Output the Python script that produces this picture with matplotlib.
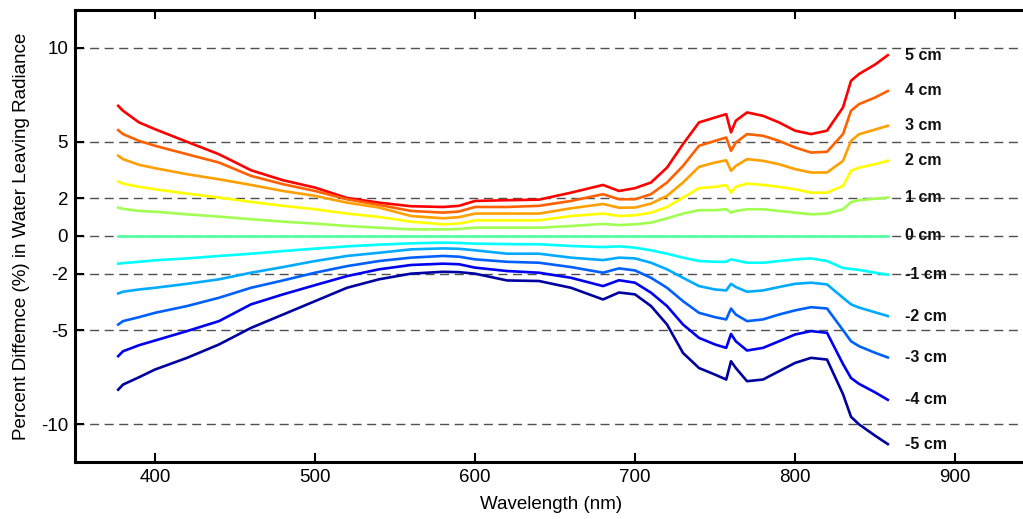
import matplotlib
matplotlib.use('Agg')
import matplotlib.pyplot as plt

plt.rcParams['font.family'] = ['Liberation Sans', 'DejaVu Sans']
plt.rcParams['axes.unicode_minus'] = False

# wavelength knots (nm)
wl = [377, 380, 390, 400, 420, 440, 460, 480, 500, 520, 540, 560, 580, 590, 600, 620, 640, 660, 680, 690, 700,
      710, 720, 730, 740, 750, 757, 760, 763, 770, 780, 790, 800, 810, 820, 830, 835, 840, 850, 858]

d5 = [6.91, 6.65, 6.03, 5.67, 5.00, 4.34, 3.49, 2.96, 2.57, 2.02, 1.77, 1.58, 1.54, 1.60, 1.86, 1.90, 1.93, 2.30, 2.71, 2.39, 2.54,
      2.84, 3.63, 4.88, 6.03, 6.29, 6.47, 5.50, 6.12, 6.56, 6.38, 6.03, 5.59, 5.41, 5.59, 6.83, 8.24, 8.60, 9.10, 9.60]
d4 = [5.62, 5.41, 5.05, 4.79, 4.34, 3.90, 3.19, 2.75, 2.39, 1.95, 1.65, 1.33, 1.24, 1.30, 1.54, 1.54, 1.60, 1.86, 2.22, 1.95, 1.95,
      2.22, 2.84, 3.72, 4.79, 5.05, 5.23, 4.52, 4.96, 5.41, 5.32, 5.05, 4.70, 4.43, 4.47, 5.41, 6.65, 7.00, 7.35, 7.70]
d3 = [4.26, 4.08, 3.78, 3.60, 3.28, 3.01, 2.71, 2.39, 2.13, 1.77, 1.51, 1.06, 0.94, 1.00, 1.19, 1.19, 1.19, 1.47, 1.70, 1.50, 1.51,
      1.72, 2.13, 2.84, 3.67, 3.90, 4.02, 3.46, 3.72, 4.08, 3.99, 3.81, 3.55, 3.37, 3.37, 3.99, 5.05, 5.40, 5.65, 5.85]
d2 = [2.89, 2.78, 2.61, 2.48, 2.25, 2.04, 1.81, 1.60, 1.42, 1.19, 1.01, 0.76, 0.62, 0.66, 0.83, 0.83, 0.83, 1.06, 1.19, 1.06, 1.10,
      1.24, 1.54, 2.04, 2.54, 2.61, 2.70, 2.30, 2.61, 2.78, 2.71, 2.61, 2.48, 2.30, 2.30, 2.66, 3.46, 3.63, 3.81, 3.99]
d1 = [1.51, 1.44, 1.33, 1.29, 1.15, 1.03, 0.89, 0.76, 0.66, 0.53, 0.44, 0.35, 0.35, 0.37, 0.44, 0.44, 0.44, 0.53, 0.64, 0.58, 0.62,
      0.71, 0.94, 1.19, 1.37, 1.37, 1.42, 1.24, 1.33, 1.42, 1.42, 1.33, 1.24, 1.15, 1.19, 1.42, 1.80, 1.90, 1.98, 2.04]
d0 = [0.0, 0.0, 0.0, 0.0, 0.0, 0.0, 0.0, 0.0, 0.0, 0.0, 0.0, 0.0, 0.0, 0.0, 0.0, 0.0, 0.0, 0.0, 0.0, 0.0, 0.0,
      0.0, 0.0, 0.0, 0.0, 0.0, 0.0, 0.0, 0.0, 0.0, 0.0, 0.0, 0.0, 0.0, 0.0, 0.0, 0.0, 0.0, 0.0, 0.0]
dm1 = [-1.47, -1.44, -1.37, -1.29, -1.19, -1.06, -0.94, -0.80, -0.67, -0.55, -0.46, -0.39, -0.35, -0.37, -0.41, -0.43, -0.44, -0.53, -0.59, -0.55, -0.62,
       -0.76, -0.94, -1.15, -1.33, -1.37, -1.37, -1.24, -1.29, -1.42, -1.42, -1.33, -1.24, -1.19, -1.33, -1.70, -1.75, -1.80, -1.95, -2.05]
dm2 = [-3.05, -2.96, -2.84, -2.75, -2.54, -2.30, -1.95, -1.65, -1.33, -1.06, -0.89, -0.71, -0.66, -0.68, -0.76, -0.94, -0.94, -1.15, -1.28, -1.15, -1.19,
       -1.42, -1.77, -2.22, -2.66, -2.84, -2.89, -2.54, -2.71, -2.96, -2.89, -2.71, -2.54, -2.48, -2.57, -3.28, -3.63, -3.80, -4.05, -4.25]
dm3 = [-4.70, -4.52, -4.31, -4.08, -3.72, -3.28, -2.75, -2.36, -1.95, -1.60, -1.33, -1.15, -1.06, -1.10, -1.24, -1.37, -1.42, -1.65, -1.95, -1.72, -1.83,
       -2.22, -2.75, -3.46, -4.08, -4.31, -4.43, -3.85, -4.17, -4.52, -4.43, -4.17, -3.95, -3.78, -3.85, -5.00, -5.59, -5.85, -6.20, -6.45]
dm4 = [-6.38, -6.12, -5.80, -5.55, -5.05, -4.52, -3.63, -3.10, -2.61, -2.13, -1.77, -1.54, -1.47, -1.50, -1.68, -1.86, -1.95, -2.22, -2.66, -2.35, -2.48,
       -3.01, -3.72, -4.70, -5.41, -5.76, -5.94, -5.20, -5.59, -6.08, -5.94, -5.59, -5.23, -5.05, -5.14, -6.80, -7.54, -7.85, -8.30, -8.70]
dm5 = [-8.16, -7.89, -7.50, -7.09, -6.47, -5.76, -4.88, -4.17, -3.46, -2.75, -2.30, -2.00, -1.90, -1.92, -2.00, -2.36, -2.39, -2.75, -3.37, -3.00, -3.10,
       -3.72, -4.70, -6.21, -7.01, -7.36, -7.62, -6.65, -7.01, -7.71, -7.62, -7.18, -6.74, -6.47, -6.56, -8.40, -9.60, -10.00, -10.60, -11.05]

series = [d5, d4, d3, d2, d1, d0, dm1, dm2, dm3, dm4, dm5]
labels = ['5 cm', '4 cm', '3 cm', '2 cm', '1 cm', '0 cm', '-1 cm', '-2 cm', '-3 cm', '-4 cm', '-5 cm']
colors = ['#ff0000', '#ff6000', '#ffa000', '#ffff00', '#a0ff50', '#50ffa0',
          '#00ffff', '#00aaff', '#0060ff', '#0000f0', '#0000a0']

yticks = [-10, -5, -2, 0, 2, 5, 10]
xticks = [400, 500, 600, 700, 800, 900]

fig = plt.figure(figsize=(10.23, 5.19), dpi=100)
# right edge of the box sits outside the picture, as in the original crop
ax = fig.add_axes([0.0733, 0.1098, 0.9541, 0.871])

# dashed reference lines at the tick values
for yt in yticks:
    ax.axhline(yt, color='#505050', lw=1.0, dashes=(6.5, 4), zorder=1)

for s, lab, c in zip(series, labels, colors):
    ax.plot(wl, s, color=c, lw=1.9, zorder=2)
    ax.text(869, s[-1], lab, fontsize=11.5, fontweight='bold', va='center', ha='left', color='#111111')

ax.set_xlim(350, 960)
ax.set_ylim(-12, 12)
ax.set_xticks(xticks)
ax.set_yticks(yticks)
ax.set_yticklabels([str(t) for t in yticks])
ax.tick_params(direction='in', length=6.5, width=1.5, labelsize=13.5, top=True, right=True, pad=5)
for sp in ax.spines.values():
    sp.set_linewidth(2.2)

ax.set_xlabel('Wavelength (nm)', fontsize=13.5)
ax.xaxis.set_label_coords(0.488, -0.075)
ax.set_ylabel('Percent Diffemce (%) in Water Leaving Radiance', fontsize=13.5, labelpad=8)

fig.savefig('out.png', dpi=100)
